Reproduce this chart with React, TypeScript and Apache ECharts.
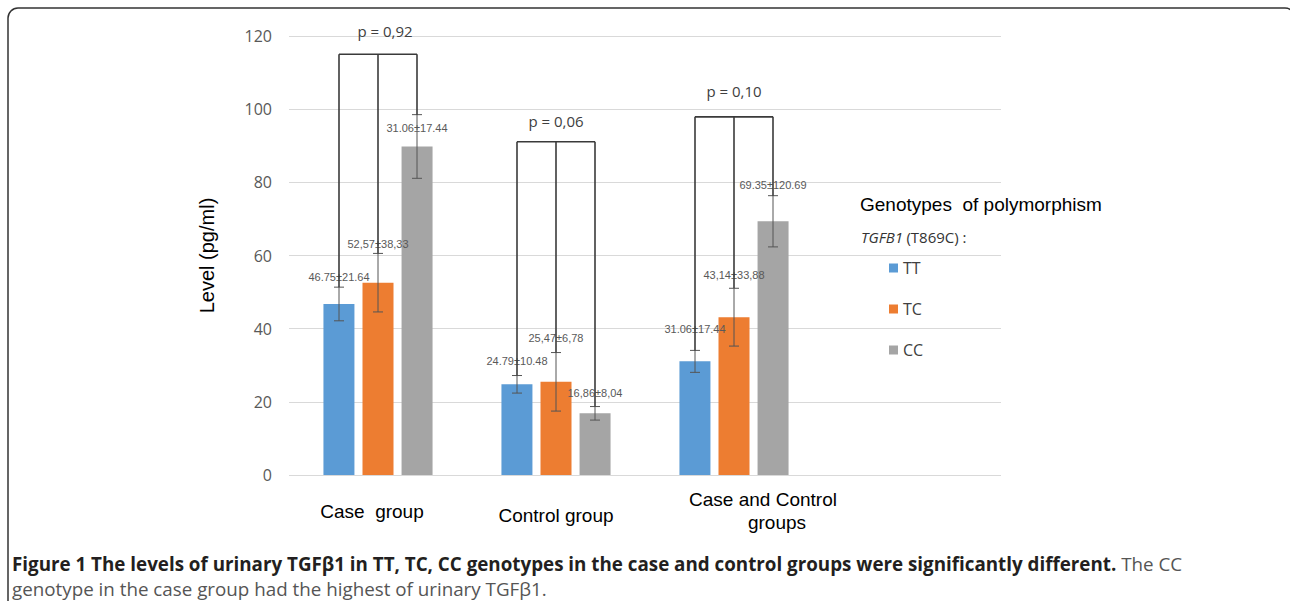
import React, { useEffect, useRef } from "react";
import * as echarts from "echarts";

const categories = ["Case  group", "Control group", "Case and Control\ngroups", ""];
const genotypes = ["TT", "TC", "CC"];
const meanTT = [46.75, 24.79, 31.06];
const meanTC = [52.57, 25.47, 43.14];
const meanCC = [89.8, 16.86, 69.35];
const errTT = [4.6, 2.4, 3.0];
const errTC = [8.0, 8.0, 7.9];
const errCC = [8.7, 1.85, 7.0];
const labelTT = ["46.75±21.64", "24.79±10.48", "31.06±17.44"];
const labelTC = ["52,57±38,33", "25,47±6,78", "43,14±33,88"];
const labelCC = ["31.06±17.44", "16,86±8,04", "69.35±120.69"];
const bracketLevel = [115, 91.1, 97.9];
const pValues = ["p = 0,92", "p = 0,06", "p = 0,10"];
const yTicks = [0, 20, 40, 60, 80, 100, 120];

const colors = ["#5b9bd5", "#ed7d31", "#a5a5a5"];
const means = [meanTT, meanTC, meanCC];
const errs = [errTT, errTC, errCC];
const valueLabels = [labelTT, labelTC, labelCC];
// pixel offsets of the value labels above the error bar top (style only)
const labelLift = [
  [10, 15, 21],
  [9, 15, 13],
  [-13, 14, 11],
];
const pLift = [23, 21, 26];
const BAR_W = 31;
const BAR_STEP = 39;
const SANS = "'Liberation Sans', Arial, sans-serif";
const OPEN = "'Open Sans', sans-serif";
const CAP_X = 12;
const CAP_SIZE = 18.8;

export default function App() {
  const ref = useRef<HTMLDivElement>(null);
  useEffect(() => {
    if (!ref.current) return;
    const chart = echarts.init(ref.current, null, { renderer: "svg" });

    const barSeries = genotypes.map((g, gi) => ({
      name: g,
      type: "bar",
      data: means[gi],
      barWidth: BAR_W,
      barGap: "26%",
      itemStyle: { color: colors[gi] },
      z: 2,
    }));

    const errSeries = genotypes.map((g, gi) => ({
      name: "err" + g,
      type: "custom",
      z: 5,
      encode: { x: 0, y: [1, 2] },
      data: means[gi].map((m, ci) => [ci, m - errs[gi][ci], m + errs[gi][ci]]),
      renderItem: (params: any, api: any) => {
        const ci = api.value(0);
        const lo = api.coord([ci, api.value(1)]);
        const hi = api.coord([ci, api.value(2)]);
        const x = hi[0] + (gi - 1) * BAR_STEP;
        const st = { stroke: "#555555", lineWidth: 1 };
        return {
          type: "group",
          children: [
            { type: "line", shape: { x1: x, y1: hi[1], x2: x, y2: lo[1] }, style: st },
            { type: "line", shape: { x1: x - 5, y1: hi[1], x2: x + 5, y2: hi[1] }, style: st },
            { type: "line", shape: { x1: x - 5, y1: lo[1], x2: x + 5, y2: lo[1] }, style: st },
            {
              type: "text",
              z2: 10,
              style: {
                text: valueLabels[gi][params.dataIndex],
                x,
                y: hi[1] - labelLift[gi][params.dataIndex],
                align: "center",
                verticalAlign: "middle",
                fill: "#595959",
                font: "11px " + SANS,
              },
            },
          ],
        };
      },
    }));

    const bracketSeries = {
      name: "brackets",
      type: "custom",
      z: 6,
      encode: { x: 0, y: 1 },
      data: bracketLevel.map((lv, ci) => [ci, lv]),
      renderItem: (params: any, api: any) => {
        const ci = api.value(0);
        const top = api.coord([ci, api.value(1)]);
        const st = { stroke: "#3a3a3a", lineWidth: 1.6 };
        const children: any[] = [
          {
            type: "line",
            shape: { x1: top[0] - BAR_STEP, y1: top[1], x2: top[0] + BAR_STEP, y2: top[1] },
            style: st,
          },
          {
            type: "text",
            style: {
              text: pValues[ci],
              x: top[0] + (ci === 0 ? 7 : 0),
              y: top[1] - pLift[ci],
              align: "center",
              verticalAlign: "middle",
              fill: "#404040",
              font: "15px " + OPEN,
            },
          },
        ];
        for (let gi = 0; gi < 3; gi++) {
          const end = api.coord([ci, means[gi][ci] + errs[gi][ci]]);
          const x = top[0] + (gi - 1) * BAR_STEP;
          children.push({
            type: "line",
            shape: { x1: x, y1: top[1], x2: x, y2: end[1] },
            style: st,
          });
        }
        return { type: "group", children };
      },
    };

    chart.setOption({
      animation: false,
      backgroundColor: "#ffffff",
      grid: { left: 289, right: 289, top: 36, bottom: 126 },
      legend: {
        data: genotypes,
        orient: "vertical",
        left: 884,
        top: 255,
        itemWidth: 9,
        itemHeight: 9,
        itemGap: 25,
        icon: "rect",
        textStyle: { fontFamily: OPEN, fontSize: 16, color: "#404040" },
      },
      xAxis: {
        type: "category",
        data: categories,
        axisLine: { show: false },
        axisTick: { show: false },
        axisLabel: {
          interval: 0,
          margin: 36,
          verticalAlign: "middle",
          color: "#000000",
          fontFamily: SANS,
          fontSize: 19,
          lineHeight: 23,
          formatter: (v: string, i: number) => {
            if (i === 0) return `{a|${v}}`;
            if (i === 1) return `{c|${v}}`;
            if (i === 2) return `{d|Case and Control}\n{e|groups}`;
            return v;
          },
          rich: {
            a: { padding: [0, 12, 0, 0], fontSize: 19, fontFamily: SANS, color: "#000", lineHeight: 23 },
            c: { padding: [8, 0, 0, 0], fontSize: 19, fontFamily: SANS, color: "#000", lineHeight: 23 },
            d: { padding: [0, 0, 0, 58], fontSize: 19, fontFamily: SANS, color: "#000", lineHeight: 23 },
            e: { padding: [0, 0, 0, 86], fontSize: 19, fontFamily: SANS, color: "#000", lineHeight: 23 },
          },
        },
      },
      yAxis: {
        type: "value",
        min: yTicks[0],
        max: yTicks[yTicks.length - 1],
        interval: 20,
        name: "Level (pg/ml)",
        nameLocation: "middle",
        nameGap: 72,
        nameRotate: 90,
        nameTextStyle: { fontFamily: SANS, fontSize: 20, color: "#000" },
        axisLine: { show: false },
        axisTick: { show: false },
        axisLabel: {
          margin: 17,
          color: "#595959",
          fontFamily: OPEN,
          fontSize: 16,
        },
        splitLine: { lineStyle: { color: "#d9d9d9", width: 1 } },
      },
      series: [...barSeries, ...errSeries, bracketSeries],
      graphic: [
        {
          type: "rect",
          shape: { x: 8, y: 8, width: 1287, height: 700, r: 10 },
          style: { fill: "none", stroke: "#333333", lineWidth: 1.5 },
          silent: true,
        },
        {
          type: "text",
          left: 860,
          top: 195,
          style: {
            text: "Genotypes  of polymorphism",
            fill: "#000",
            font: "19px " + SANS,
          },
        },
        {
          type: "text",
          left: 861,
          top: 229,
          style: {
            text: "{i|TGFB1} {n|(T869C) :}",
            rich: {
              i: { fontStyle: "italic", fontFamily: OPEN, fontSize: 15, fill: "#333" },
              n: { fontFamily: OPEN, fontSize: 15, fill: "#333" },
            },
          },
        },
        {
          type: "text",
          left: CAP_X,
          top: 554,
          style: {
            text:
              "{b|Figure 1 The levels of urinary TGFβ1 in TT, TC, CC genotypes in the case and control groups were significantly different.}{n| The CC}",
            rich: {
              b: { fontWeight: "bold", fontFamily: OPEN, fontSize: CAP_SIZE, fill: "#231f20", lineHeight: 21 },
              n: { fontFamily: OPEN, fontSize: CAP_SIZE, fill: "#555555", lineHeight: 21 },
            },
          },
        },
        {
          type: "text",
          left: CAP_X,
          top: 579,
          style: {
            text: "genotype in the case group had the highest of urinary TGFβ1.",
            fill: "#555555",
            font: CAP_SIZE + "px " + OPEN,
          },
        },
      ],
    });
    return () => chart.dispose();
  }, []);
  return (
    <div
      ref={ref}
      style={{ position: "fixed", left: 0, top: 0, width: 1290, height: 601 }}
    />
  );
}
